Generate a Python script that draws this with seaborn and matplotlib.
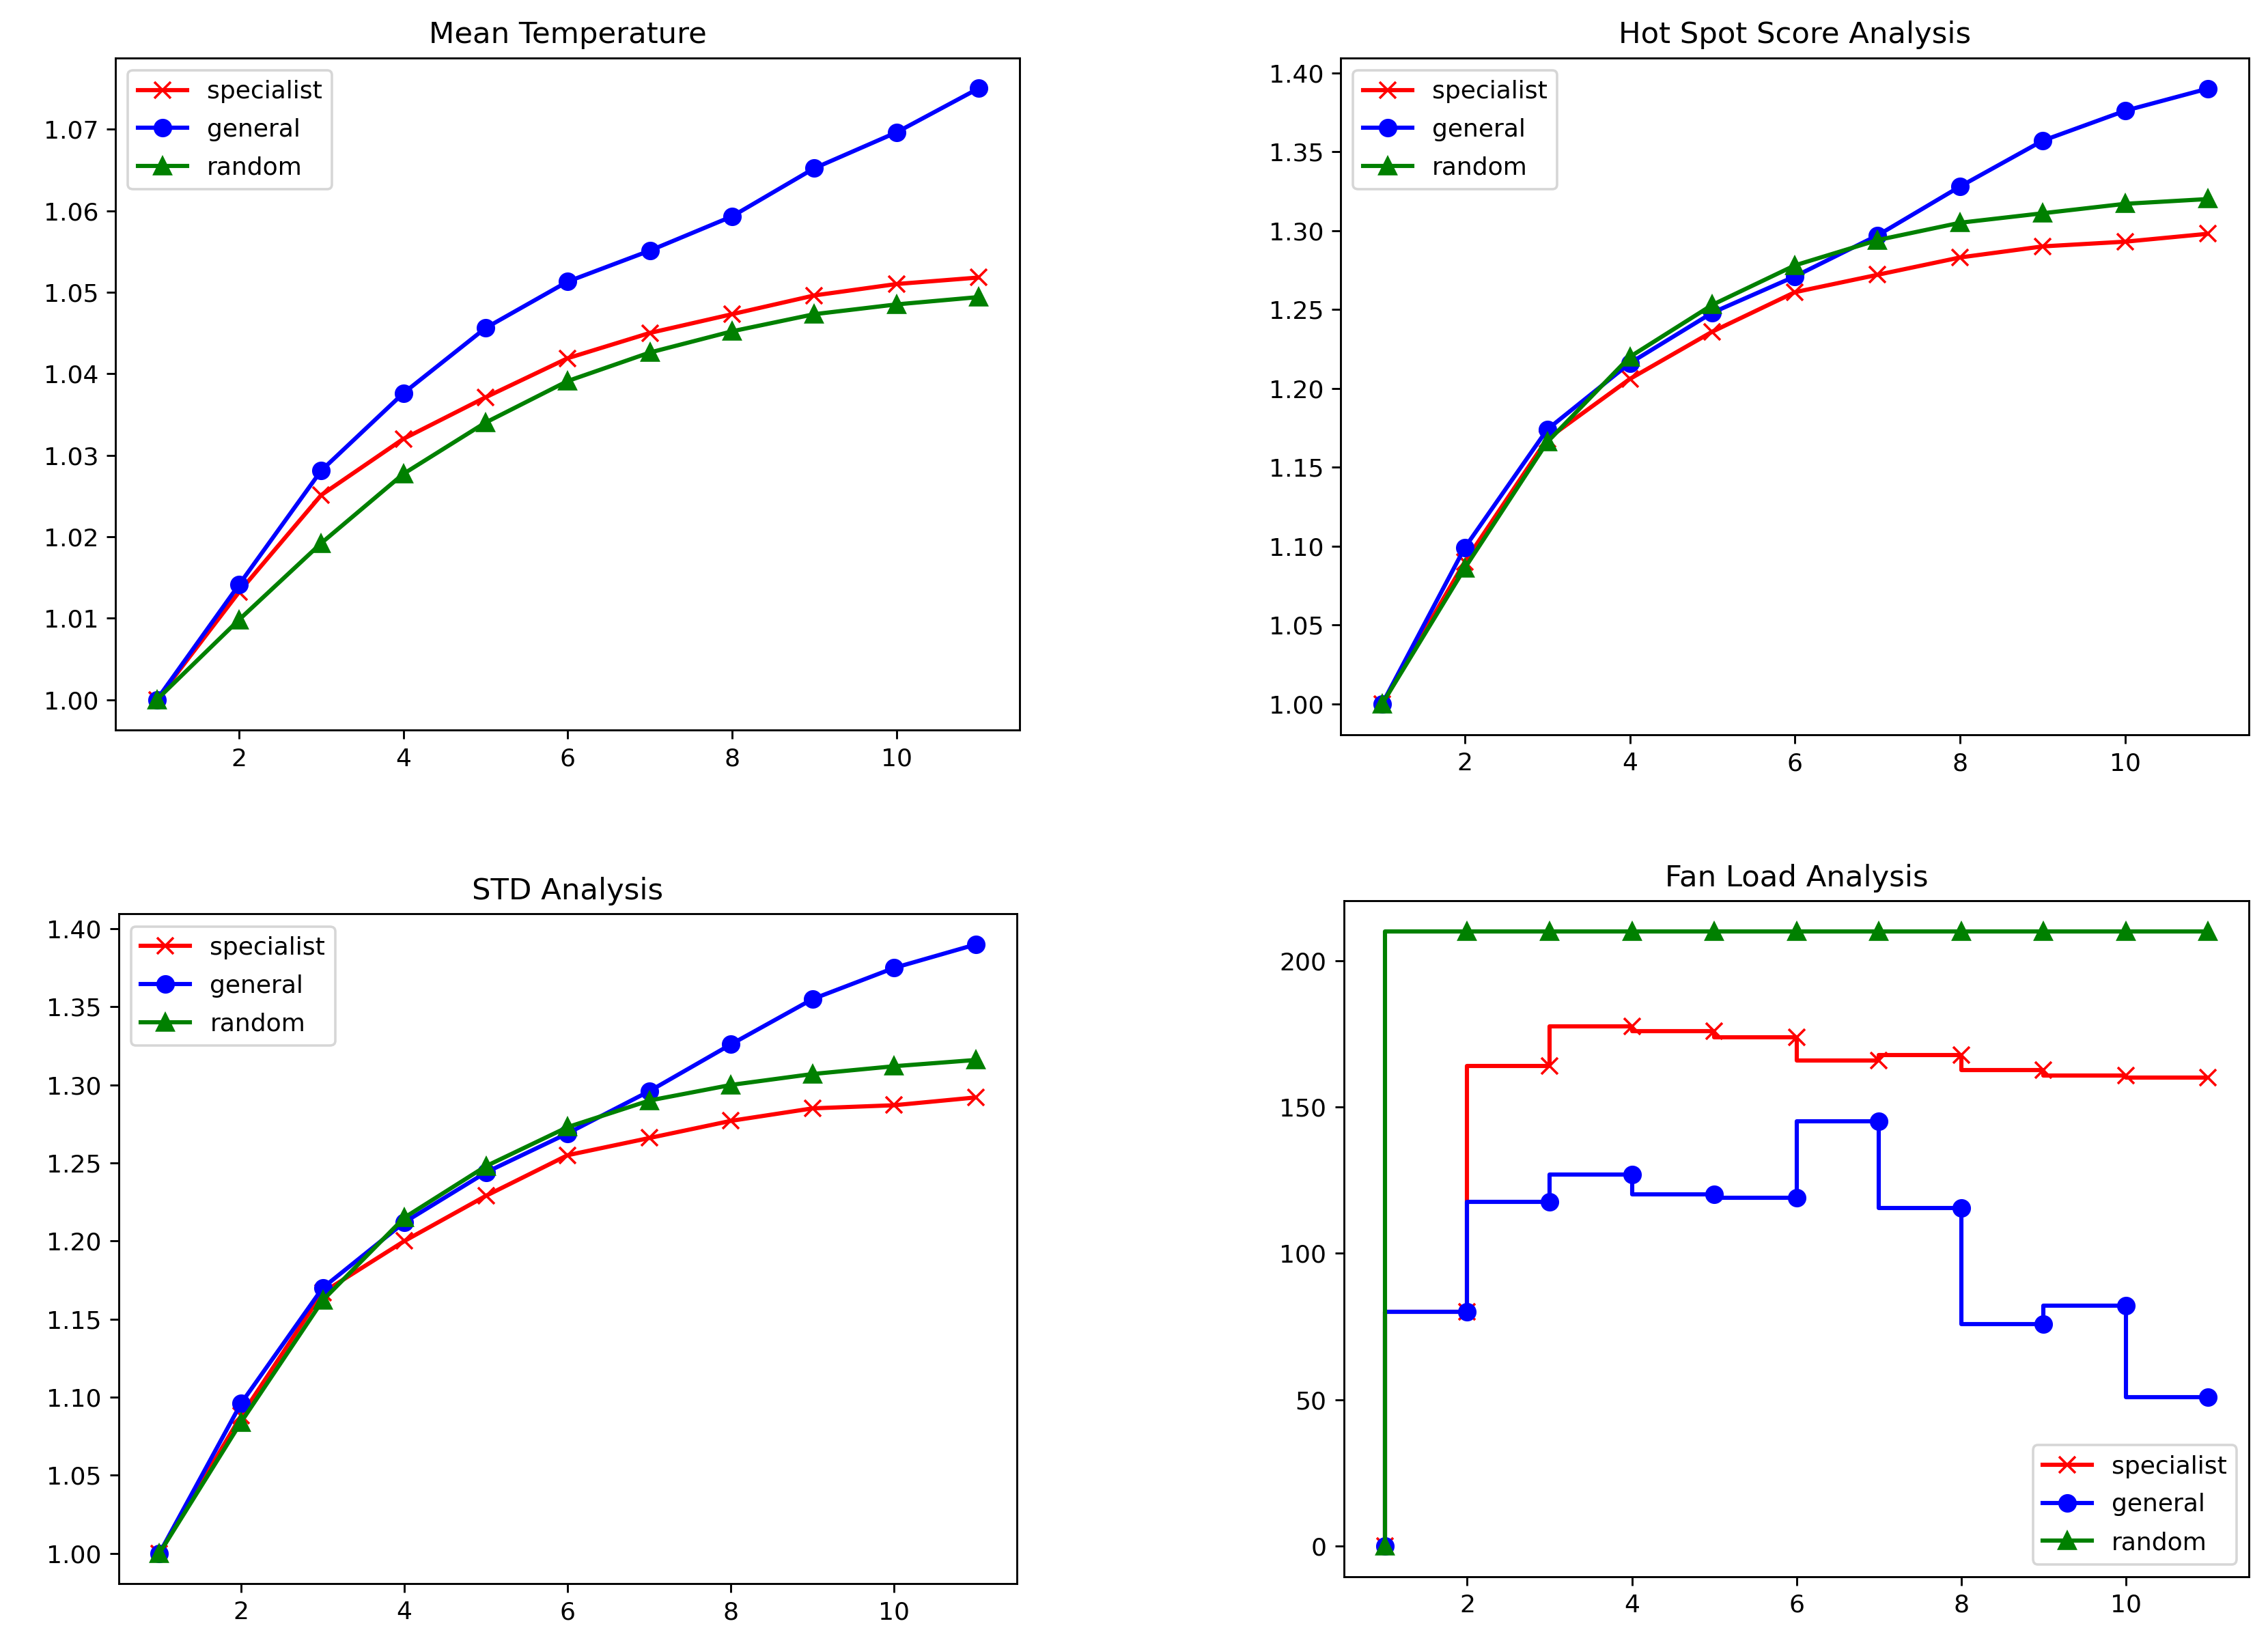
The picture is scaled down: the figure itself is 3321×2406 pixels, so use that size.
import matplotlib
matplotlib.use("Agg")
import matplotlib.pyplot as plt
import seaborn as sns
import pandas as pd

# sumbu x: iterasi 1..11
steps = [1, 2, 3, 4, 5, 6, 7, 8, 9, 10, 11]

# Mean Temperature
mean_specialist = [1.0000, 1.0132, 1.0251, 1.0320, 1.0371, 1.0419, 1.0450, 1.0473, 1.0496, 1.0510, 1.0518]
mean_general = [1.0000, 1.0141, 1.0281, 1.0376, 1.0456, 1.0513, 1.0551, 1.0593, 1.0652, 1.0696, 1.0750]
mean_random = [1.0000, 1.0098, 1.0192, 1.0277, 1.0340, 1.0391, 1.0426, 1.0452, 1.0473, 1.0485, 1.0494]

# Hot Spot Score
hot_specialist = [1.000, 1.090, 1.168, 1.206, 1.236, 1.261, 1.272, 1.283, 1.290, 1.293, 1.298]
hot_general = [1.000, 1.099, 1.174, 1.216, 1.248, 1.271, 1.297, 1.328, 1.357, 1.376, 1.390]
hot_random = [1.000, 1.086, 1.166, 1.220, 1.253, 1.278, 1.294, 1.305, 1.311, 1.317, 1.320]

# STD
std_specialist = [1.000, 1.088, 1.167, 1.200, 1.229, 1.255, 1.266, 1.277, 1.285, 1.287, 1.292]
std_general = [1.000, 1.096, 1.170, 1.212, 1.244, 1.269, 1.296, 1.326, 1.355, 1.375, 1.390]
std_random = [1.000, 1.084, 1.162, 1.215, 1.248, 1.273, 1.290, 1.300, 1.307, 1.312, 1.316]

# Fan Load
fan_specialist = [0, 80, 164, 177.7, 175.9, 174, 165.9, 167.8, 162.8, 160.8, 160.1]
fan_general = [0, 80, 117.7, 127, 120.2, 119, 145.2, 115.4, 75.8, 82.1, 50.9]
fan_random = [0, 210, 210, 210, 210, 210, 210, 210, 210, 210, 210]

series_style = {
    "specialist": ("red", "x"),
    "general": ("blue", "o"),
    "random": ("green", "^"),
}

panels = [
    ("Mean Temperature", [mean_specialist, mean_general, mean_random], None, "upper left",
     [0.0510, 0.5555, 0.3986, 0.4093]),
    ("Hot Spot Score Analysis", [hot_specialist, hot_general, hot_random], None, "upper left",
     [0.5912, 0.5528, 0.4005, 0.4120]),
    ("STD Analysis", [std_specialist, std_general, std_random], None, "upper left",
     [0.0523, 0.0361, 0.3960, 0.4076]),
    ("Fan Load Analysis", [fan_specialist, fan_general, fan_random], "steps-pre", "lower right",
     [0.5925, 0.0405, 0.3992, 0.4111]),
]

dpi = 260
fig = plt.figure(figsize=(3321 / dpi, 2406 / dpi), dpi=dpi)

for title, values, drawstyle, loc, pos in panels:
    ax = fig.add_axes(pos)
    for name, ys in zip(series_style, values):
        color, marker = series_style[name]
        df = pd.DataFrame({"x": steps, "y": ys})
        kw = {}
        if drawstyle:
            kw["drawstyle"] = drawstyle
        sns.lineplot(data=df, x="x", y="y", ax=ax, color=color, marker=marker,
                     markeredgecolor=color, markeredgewidth=1.0, markersize=6.5,
                     linewidth=1.7, label=name, **kw)
    ax.set_title(title, fontsize=12)
    ax.set_xlabel("")
    ax.set_ylabel("")
    ax.legend(loc=loc, fontsize=10, labelspacing=0.6)

fig.savefig("out.png", dpi=dpi)
